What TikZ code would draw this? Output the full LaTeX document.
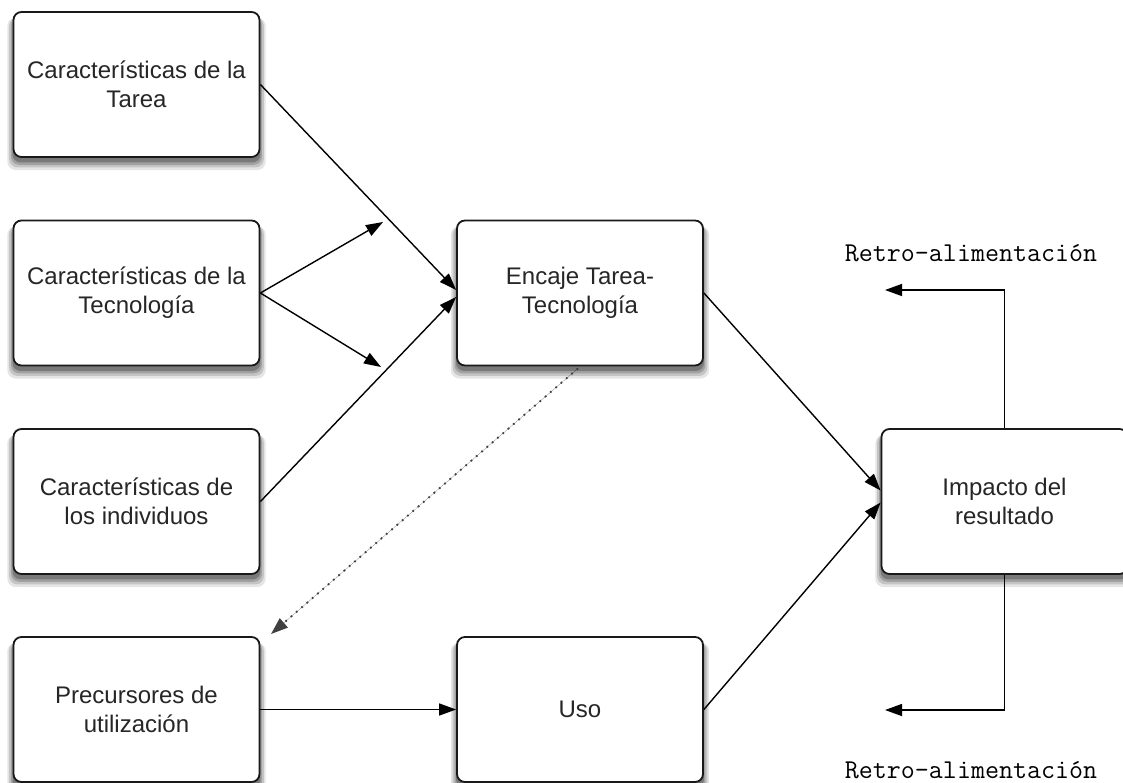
\documentclass[tikz,border=0pt]{standalone}
\usepackage{fontspec}
\setmainfont{Liberation Sans}
\usetikzlibrary{arrows.meta,shadows,calc}
\begin{document}
\begin{tikzpicture}[x=0.5pt,y=-0.5pt,
  softshadow/.style={
    general shadow={shadow yshift=-4.5pt, shadow scale=1.05, fill=black, opacity=0.10},
    general shadow={shadow yshift=-3.8pt, shadow scale=1.035, fill=black, opacity=0.14},
    general shadow={shadow yshift=-3.1pt, shadow scale=1.02, fill=black, opacity=0.18},
    general shadow={shadow yshift=-2.4pt, shadow scale=1.008, fill=black, opacity=0.24}},
  box/.style={draw=black!90, line width=0.9pt, rounded corners=4pt, fill=white,
    minimum width=123pt, minimum height=72.5pt, inner sep=0pt, align=center,
    font=\fontsize{12}{14.5}\selectfont, text=black!85, softshadow},
  arr/.style={line width=0.7pt, -{Triangle[length=8.5pt,width=6pt]}},
  lbl/.style={font=\ttfamily\fontsize{13.6}{15}\selectfont, text=black}
]
\fill[white] (0,0) rectangle (1123,782);
\useasboundingbox (0,0) rectangle (1123,782);

\node[box] (t1) at (136.5,84.5) {Características de la\\Tarea};
\node[box] (t2) at (136.5,293) {Características de la\\Tecnología};
\node[box] (t3) at (136.5,501.5) {Características de\\los individuos};
\node[box] (pre) at (136.5,709.5) {Precursores de\\utilización};
\node[box] (enc) at (580,293) {Encaje Tarea-\\Tecnología};
\node[box] (uso) at (580,709.5) {Uso};
\node[box] (imp) at (1004.5,501.5) {Impacto del\\resultado};

\coordinate (a1) at (383,222);
\coordinate (a2) at (381,367);
\coordinate (fb1) at (885,290);
\coordinate (fb2) at (885,710);
\coordinate (dt) at (271,634);

\draw[arr] (t1.east) -- ($(enc.west)+(0,-3)$);
\draw[arr] (t2.east) -- (a1);
\draw[arr] (t2.east) -- (a2);
\draw[arr] (t3.east) -- ($(enc.west)+(0,4)$);
\draw[arr] (enc.east) -- ($(imp.west)+(0,-11)$);
\draw[arr] (uso.east) -- ($(imp.west)+(0,1)$);
\draw[arr] (pre.east) -- (uso.west);
\draw[arr, line width=0.9pt, dash pattern=on 0.9pt off 2.6pt, draw=black!75, fill=black] ($(enc.south)+(-2,2)$) -- (dt);
\draw[arr] (imp.north) |- (fb1);
\draw[arr] (imp.south) |- (fb2);

\node[lbl] (r1) at (971,253) {Retro-alimentación};
\node[lbl] (r2) at (971,770) {Retro-alimentación};
\end{tikzpicture}
\end{document}
